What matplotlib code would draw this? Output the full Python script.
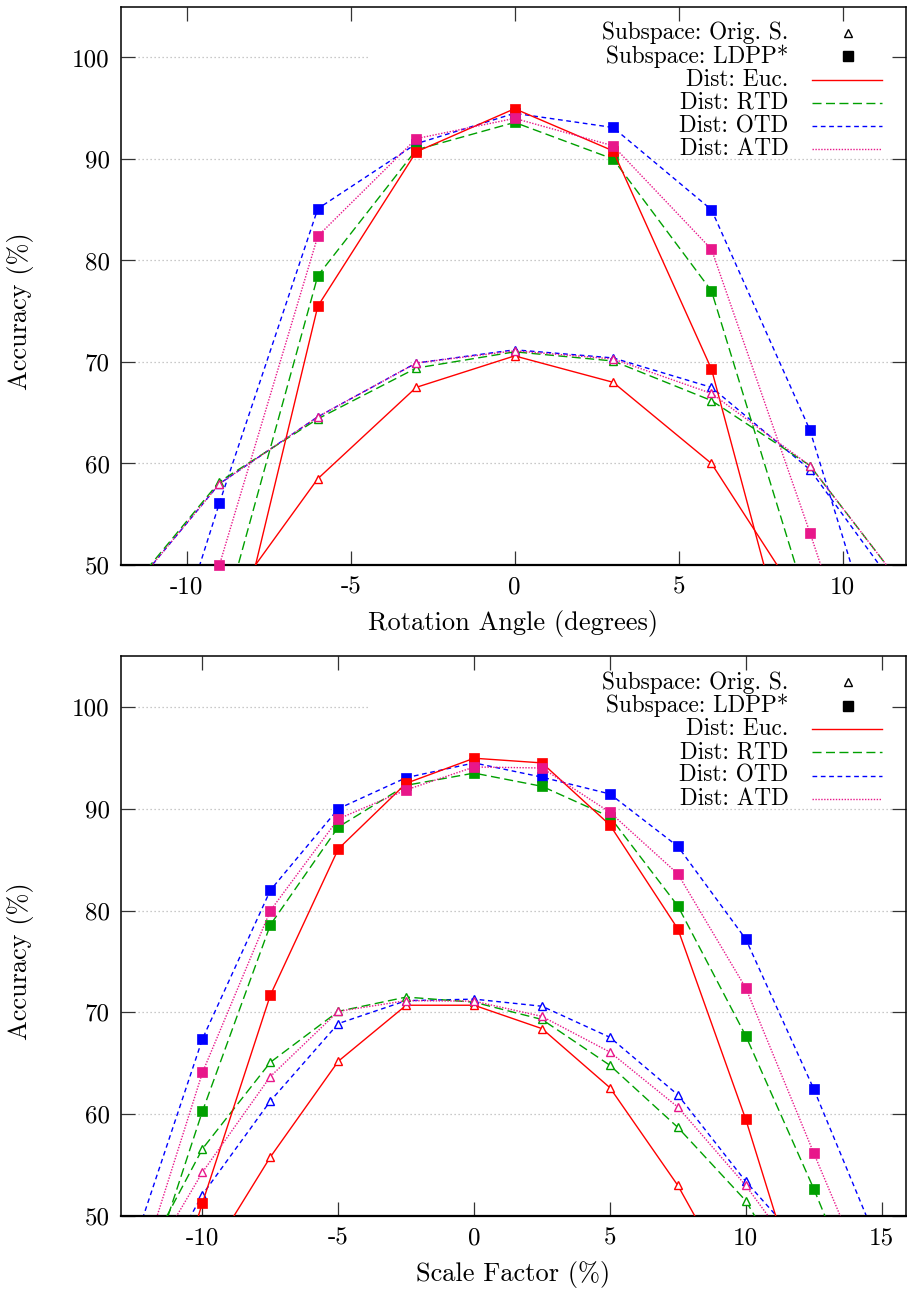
import matplotlib
matplotlib.use('Agg')
import matplotlib.pyplot as plt
import numpy as np

plt.rcParams['font.family'] = ['cmr10', 'DejaVu Serif']
plt.rcParams['axes.unicode_minus'] = False
plt.rcParams['mathtext.fontset'] = 'cm'

# ---------------- data: rotation ----------------
rot_x = [-12, -9, -6, -3, 0, 3, 6, 9, 12]
rot_orig_euc = [32.0, 45.1, 58.5, 67.5, 70.6, 68.0, 60.0, 45.0, 31.0]
rot_orig_rtd = [46.5, 58.2, 64.4, 69.4, 71.0, 70.1, 66.2, 59.8, 47.2]
rot_orig_otd = [46.3, 58.0, 64.6, 69.9, 71.2, 70.4, 67.5, 59.4, 46.1]
rot_orig_atd = [46.3, 58.0, 64.6, 69.9, 71.1, 70.3, 66.9, 59.8, 47.2]
rot_ldpp_euc = [20.0, 35.2, 75.5, 90.7, 94.95, 90.8, 69.3, 33.1, 20.0]
rot_ldpp_rtd = [25.0, 43.3, 78.5, 90.9, 93.6, 90.0, 77.0, 45.4, 25.0]
rot_ldpp_otd = [25.6, 56.1, 85.1, 91.5, 94.5, 93.1, 85.0, 63.3, 31.7]
rot_ldpp_atd = [22.0, 50.0, 82.4, 92.0, 94.0, 91.3, 81.1, 53.2, 24.1]
rot_xticks = [-10, -5, 0, 5, 10]

# ---------------- data: scale ----------------
sc_x = [-12.5, -10, -7.5, -5, -2.5, 0, 2.5, 5, 7.5, 10, 12.5, 15]
sc_orig_euc = [34.0, 45.0, 55.8, 65.2, 70.7, 70.7, 68.4, 62.6, 53.0, 41.0, 30.0, 20.0]
sc_orig_rtd = [44.0, 56.6, 65.1, 70.1, 71.5, 71.0, 69.3, 64.8, 58.7, 51.5, 40.2, 30.0]
sc_orig_otd = [40.0, 52.1, 61.3, 68.9, 71.15, 71.3, 70.6, 67.55, 61.9, 53.4, 45.9, 38.0]
sc_orig_atd = [43.0, 54.3, 63.7, 70.1, 71.15, 71.1, 69.6, 66.1, 60.7, 53.0, 43.9, 35.0]
sc_ldpp_euc = [30.0, 51.3, 71.7, 86.05, 92.5, 94.96, 94.5, 88.4, 78.2, 59.5, 38.0, 25.0]
sc_ldpp_rtd = [40.0, 60.3, 78.6, 88.2, 92.3, 93.5, 92.2, 89.2, 80.45, 67.7, 52.7, 36.5]
sc_ldpp_otd = [47.4, 67.4, 82.0, 90.0, 93.05, 94.5, 93.1, 91.45, 86.3, 77.2, 62.5, 46.4]
sc_ldpp_atd = [43.0, 64.1, 80.0, 89.0, 91.85, 94.1, 94.0, 89.65, 83.6, 72.4, 56.2, 40.4]
sc_xticks = [-10, -5, 0, 5, 10, 15]

yticks = [50, 60, 70, 80, 90, 100]

legend_labels = ["Subspace: Orig. S.", "Subspace: LDPP*",
                 "Dist: Euc.", "Dist: RTD", "Dist: OTD", "Dist: ATD"]

# ---------------- styles ----------------
COL = {'euc': '#ff0000', 'rtd': '#00a000', 'otd': '#0000ff', 'atd': '#e8178a'}
LS = {'euc': '-', 'rtd': (0, (6.5, 3.2)), 'otd': (0, (3.4, 2.6)), 'atd': (0, (1.0, 1.1))}
ORDER = ['otd', 'rtd', 'euc', 'atd']
FS = 18
FS_LAB = 19
FS_KEY = 16.8

fig = plt.figure(figsize=(9.07, 12.91), dpi=100)
ax1 = fig.add_axes([121/907, (1291-565)/1291, 785/907, 558.3/1291])
ax2 = fig.add_axes([121/907, (1291-1216)/1291, 785/907, 560/1291])


def draw_series(ax, x, y, key, marker, zbase, ymin):
    c = COL[key]
    ax.plot(x, y, color=c, lw=1.0, linestyle=LS[key], zorder=zbase)
    xa = np.asarray(x, float)
    ya = np.asarray(y, float)
    m = ya >= ymin - 1e-9
    if marker == '^':
        ax.plot(xa[m], ya[m], ls='none', marker='^', ms=6.4, mfc='white',
                mec=c, mew=1.0, zorder=zbase + 0.1, clip_on=False)
    else:
        ax.plot(xa[m], ya[m], ls='none', marker='s', ms=7.0, mfc=c,
                mec=c, mew=0.5, zorder=zbase + 0.1, clip_on=False)


def setup(ax, xlim, xticks, xlabel, grid100_end):
    ax.set_xlim(*xlim)
    ax.set_ylim(50, 105)
    ax.set_xticks(xticks)
    ax.set_xticklabels([str(t) for t in xticks])
    ax.set_yticks(yticks)
    ax.set_yticklabels([str(t) for t in yticks])
    ax.tick_params(direction='in', length=10, width=0.9, top=True, right=True,
                   labelsize=FS, pad=8, color='#333333')
    for s in ax.spines.values():
        s.set_linewidth(1.1)
    ax.spines['bottom'].set_linewidth(1.6)
    for v in yticks[1:]:
        xmax = grid100_end if v == 100 else 0.983
        ax.axhline(v, xmin=0.017, xmax=xmax, color='#b8b8b8', lw=0.9,
                   ls=(0, (1, 2.2)), zorder=0.5)
    ax.set_xlabel(xlabel, fontsize=FS_LAB, va='center')
    ax.set_ylabel('Accuracy (%)', fontsize=FS_LAB, va='center')
    ax.xaxis.set_label_coords(0.5, -0.104)
    ax.yaxis.set_label_coords(-0.128, 0.455)


def key(ax):
    row0 = 0.953
    step = 0.0417
    for i, lab in enumerate(legend_labels):
        yy = row0 - i * step
        ax.text(0.850, yy, lab, transform=ax.transAxes, ha='right',
                va='center', fontsize=FS_KEY, zorder=10)
        if i == 0:
            ax.plot([0.926], [yy], transform=ax.transAxes, ls='none', marker='^',
                    ms=5.5, mfc='white', mec='black', mew=1.0, clip_on=False, zorder=10)
        elif i == 1:
            ax.plot([0.926], [yy], transform=ax.transAxes, ls='none', marker='s',
                    ms=7.0, mfc='black', mec='black', clip_on=False, zorder=10)
        else:
            k = ['euc', 'rtd', 'otd', 'atd'][i - 2]
            ax.plot([0.880, 0.969], [yy, yy], transform=ax.transAxes, color=COL[k],
                    lw=1.0, linestyle=LS[k], clip_on=False, zorder=10)


rot_data = {
    'euc': (rot_orig_euc, rot_ldpp_euc), 'rtd': (rot_orig_rtd, rot_ldpp_rtd),
    'otd': (rot_orig_otd, rot_ldpp_otd), 'atd': (rot_orig_atd, rot_ldpp_atd)}
sc_data = {
    'euc': (sc_orig_euc, sc_ldpp_euc), 'rtd': (sc_orig_rtd, sc_ldpp_rtd),
    'otd': (sc_orig_otd, sc_ldpp_otd), 'atd': (sc_orig_atd, sc_ldpp_atd)}

for ax, xs, data in [(ax1, rot_x, rot_data), (ax2, sc_x, sc_data)]:
    for j, k in enumerate(ORDER):
        o, l = data[k]
        draw_series(ax, xs, o, k, '^', 2 + j, 50)
        draw_series(ax, xs, l, k, 's', 2 + j + 0.5, 50)

setup(ax1, (-12, 11.93), rot_xticks, 'Rotation Angle (degrees)', 0.317)
setup(ax2, (-13, 15.9), sc_xticks, 'Scale Factor (%)', 0.317)
key(ax1)
key(ax2)

fig.savefig('out.png', dpi=100)
